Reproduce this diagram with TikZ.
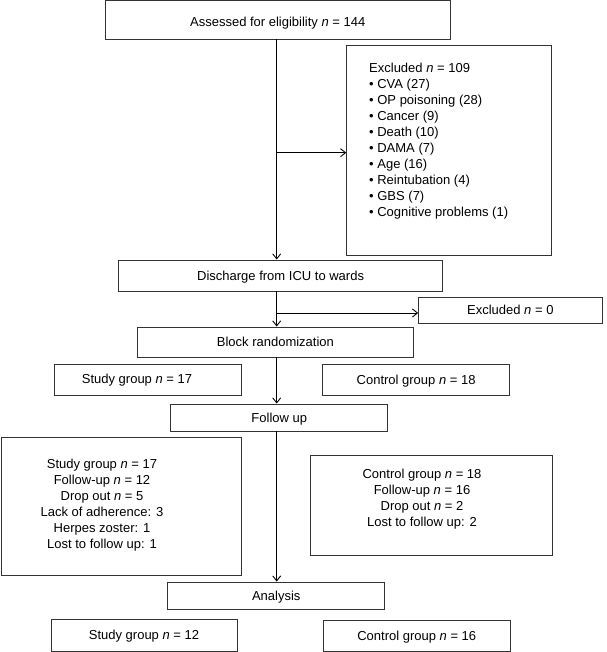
\documentclass[tikz,border=0pt]{standalone}
\usepackage{fontspec}
\setmainfont{Liberation Sans}
\usetikzlibrary{arrows.meta}
\begin{document}
\begin{tikzpicture}[x=1pt,y=-1pt,
  every node/.style={font=\fontsize{13}{16}\selectfont, inner sep=0pt},
  box/.style={draw=black!80, line width=0.9pt, rectangle, text height=9.3pt, text depth=0pt},
  conn/.style={line width=1.3pt, black},
  arr/.style={conn, -{Straight Barb[length=5pt,width=8pt,line width=0.9pt]}},
  hconn/.style={line width=1pt, black, -{Straight Barb[length=5pt,width=8pt,line width=0.9pt]}}
]
\useasboundingbox (0,0) rectangle (606,652);

% boxes
\node[box, text height=14.3pt, minimum width=344.5pt, minimum height=38.5pt] (assess) at (277.75,19.75) {Assessed for eligibility \textit{n} = 144};
\node[box, minimum width=205pt, minimum height=209.3pt] (excl) at (449.15,150.35) {};
\node[anchor=north west, align=left] (excltxt) at (369,63) {Excluded \textit{n} = 109\\
• CVA (27)\\
• OP poisoning (28)\\
• Cancer (9)\\
• Death (10)\\
• DAMA (7)\\
• Age (16)\\
• Reintubation (4)\\
• GBS (7)\\
• Cognitive problems (1)};
\node[box, minimum width=324pt, minimum height=31pt] (disch) at (280.6,275.5) {Discharge from ICU to wards};
\node[box, minimum width=183.4pt, minimum height=26pt] (excl0) at (510.3,310) {Excluded \textit{n} = 0};
\node[box, minimum width=276.4pt, minimum height=30pt] (block) at (275.4,342) {Block randomization};
\node[box, minimum width=187pt, minimum height=31pt] (sg17) at (148,379.5) {};
\node[text height=9.3pt, text depth=0pt] (sg17txt) at (137,379) {Study group \textit{n} = 17};
\node[box, minimum width=186.7pt, minimum height=31pt] (cg18) at (416.1,379.5) {Control group \textit{n} = 18};
\node[box, minimum width=216.8pt, minimum height=27pt] (fu) at (279.3,417.5) {Follow up};
\node[box, minimum width=240.6pt, minimum height=138pt] (sgbox) at (121.3,506) {};
\node[align=center] (sgtxt) at (102,505) {Study group \textit{n} = 17\\
Follow-up \textit{n} = 12\\
Drop out \textit{n} = 5\\
Lack of adherence: 3\\
Herpes zoster: 1\\
Lost to follow up: 1};
\node[box, minimum width=241.6pt, minimum height=100pt] (cgbox) at (431.2,505) {};
\node[align=center] (cgtxt) at (422,499) {Control group \textit{n} = 18\\
Follow-up \textit{n} = 16\\
Drop out \textit{n} = 2\\
Lost to follow up: 2};
\node[box, minimum width=216.8pt, minimum height=27pt] (anal) at (276.2,595.5) {Analysis};
\node[box, minimum width=186pt, minimum height=32pt] (sg12) at (144,635) {Study group \textit{n} = 12};
\node[box, minimum width=186.5pt, minimum height=31pt] (cg16) at (416.75,635.5) {Control group \textit{n} = 16};

% connectors
\coordinate (spine) at (276.7,0);
\coordinate (br1) at (276.7,152.7);
\coordinate (br2) at (276.7,313);
\draw[arr] (assess.south -| spine) -- (disch.north -| spine);
\draw[hconn] (br1) -- (br1 -| excl.west);
\draw[arr] (disch.south -| spine) -- (block.north -| spine);
\draw[hconn] (br2) -- (br2 -| excl0.west);
\draw[arr] (block.south -| spine) -- (fu.north -| spine);
\draw[arr] (fu.south -| spine) -- (anal.north -| spine);
\end{tikzpicture}
\end{document}
